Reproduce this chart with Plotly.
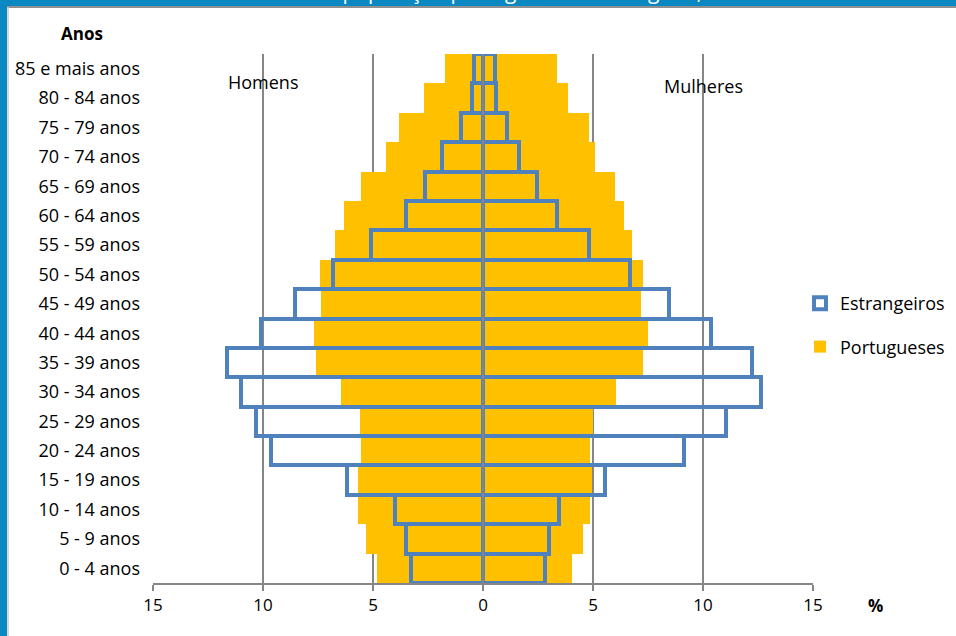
import plotly.graph_objects as go

age_groups = ["0 - 4 anos", "5 - 9 anos", "10 - 14 anos", "15 - 19 anos", "20 - 24 anos",
              "25 - 29 anos", "30 - 34 anos", "35 - 39 anos", "40 - 44 anos", "45 - 49 anos",
              "50 - 54 anos", "55 - 59 anos", "60 - 64 anos", "65 - 69 anos", "70 - 74 anos",
              "75 - 79 anos", "80 - 84 anos", "85 e mais anos"]

# percentages (men shown to the left)
port_homens = [4.8, 5.3, 5.7, 5.7, 5.55, 5.6, 6.45, 7.6, 7.7, 7.35, 7.4, 6.75, 6.3, 5.55, 4.4, 3.8, 2.7, 1.75]
port_mulheres = [4.06, 4.53, 4.86, 4.94, 4.86, 4.98, 6.05, 7.29, 7.49, 7.17, 7.26, 6.76, 6.41, 5.98, 5.1, 4.8, 3.88, 3.38]
estr_homens = [3.27, 3.5, 4.0, 6.2, 9.64, 10.33, 10.98, 11.65, 10.1, 8.55, 6.8, 5.1, 3.5, 2.64, 1.86, 1.02, 0.5, 0.42]
estr_mulheres = [2.82, 2.98, 3.44, 5.53, 9.15, 11.05, 12.62, 12.23, 10.36, 8.45, 6.7, 4.83, 3.38, 2.44, 1.65, 1.08, 0.6, 0.55]

x_ticks = [-15, -10, -5, 0, 5, 10, 15]
x_tick_labels = ["15", "10", "5", "0", "5", "10", "15"]

ORANGE = "#FFC000"
BLUE = "#4F81BD"
GRID = "#868686"
FONT = "Open Sans"

fig = go.Figure()

# Portugueses (filled, behind)
fig.add_trace(go.Bar(y=age_groups, x=[-v for v in port_homens], orientation="h",
                     marker=dict(color=ORANGE, line=dict(width=0)), name="Portugueses",
                     legendgroup="p", legendrank=2, showlegend=True, hoverinfo="skip"))
fig.add_trace(go.Bar(y=age_groups, x=port_mulheres, orientation="h",
                     marker=dict(color=ORANGE, line=dict(width=0)), name="Portugueses",
                     legendgroup="p", legendrank=2, showlegend=False, hoverinfo="skip"))
# Estrangeiros (outline only, in front)
fig.add_trace(go.Bar(y=age_groups, x=[-v for v in estr_homens], orientation="h",
                     marker=dict(color="rgba(255,255,255,0)", line=dict(color=BLUE, width=4)),
                     name="Estrangeiros", legendgroup="e", legendrank=1, showlegend=True,
                     hoverinfo="skip"))
fig.add_trace(go.Bar(y=age_groups, x=estr_mulheres, orientation="h",
                     marker=dict(color="rgba(255,255,255,0)", line=dict(color=BLUE, width=4)),
                     name="Estrangeiros", legendgroup="e", legendrank=1, showlegend=False,
                     hoverinfo="skip"))

L, R, T, B = 153, 143, 54, 53
W, H = 956, 636
pw, ph = W - L - R, H - T - B

def px_x(px):
    return (px - L) / pw

def px_y(py):
    return (H - B - py) / ph

fig.update_layout(
    width=W, height=H,
    margin=dict(l=L, r=R, t=T, b=B, pad=0, autoexpand=False),
    barmode="overlay", bargap=0,
    paper_bgcolor="white", plot_bgcolor="white",
    font=dict(family=FONT, size=18, color="black"),
    showlegend=True,
    legend=dict(x=px_x(800), y=px_y(285), xanchor="left", yanchor="top",
                traceorder="grouped", tracegroupgap=17,
                font=dict(family=FONT, size=18, color="black"),
                itemwidth=30, bgcolor="rgba(0,0,0,0)"),
    xaxis=dict(range=[-15, 15], tickvals=x_ticks, ticktext=x_tick_labels,
               showgrid=True, gridcolor=GRID, gridwidth=2, zeroline=False,
               showline=True, linecolor=GRID, linewidth=2,
               ticks="outside", ticklen=6, tickcolor=GRID, tickwidth=2,
               tickfont=dict(family=FONT, size=17, color="black"), fixedrange=True,
               automargin=False),
    yaxis=dict(categoryorder="array", categoryarray=age_groups, showgrid=False,
               zeroline=False, showline=False, ticks="", ticklabelstandoff=12,
               tickfont=dict(family=FONT, size=18, color="black"), fixedrange=True,
               automargin=False),
)

# zero axis line drawn above bars
fig.add_shape(type="line", xref="x", yref="paper", x0=0, x1=0, y0=0, y1=1,
              line=dict(color=GRID, width=2), layer="above")

# annotations
def note(x, y, text, size, xref="paper"):
    fig.add_annotation(x=x, y=y, xref=xref, yref="paper", text=text, showarrow=False,
                       xanchor="center", yanchor="middle",
                       font=dict(family=FONT, size=size, color="black"))

note(-10, px_y(82), "Homens", 18, xref="x")
note(10, px_y(86), "Mulheres", 18, xref="x")
note(px_x(82), px_y(33), "<b>Anos</b>", 17)
note(px_x(875), px_y(605), "<b>%</b>", 17)

# slide frame: top band and left border
fig.add_shape(type="rect", xref="paper", yref="paper", x0=px_x(-5), x1=px_x(W + 5),
              y0=px_y(6), y1=px_y(-5), fillcolor="#0A88C2", line=dict(width=0), layer="above")
fig.add_shape(type="line", xref="paper", yref="paper", x0=px_x(0), x1=px_x(W),
              y0=px_y(7), y1=px_y(7), line=dict(color="#909090", width=2), layer="above")
fig.add_shape(type="rect", xref="paper", yref="paper", x0=px_x(-5), x1=px_x(7),
              y0=px_y(H + 5), y1=px_y(-5), fillcolor="#0A88C2", line=dict(width=0), layer="above")
fig.add_shape(type="line", xref="paper", yref="paper", x0=px_x(8), x1=px_x(8),
              y0=px_y(H), y1=px_y(7), line=dict(color="#C8C8C8", width=1.5), layer="above")
fig.add_annotation(x=px_x(455), y=px_y(7), xref="paper", yref="paper",
                   text="Estrutura etária da população portuguesa e estrangeira, 2011",
                   showarrow=False, xanchor="center", yanchor="bottom",
                   font=dict(family=FONT, size=21, color="white"))

fig.write_html("out.html", config={"displayModeBar": False},
               post_script="document.body.style.margin='0';document.body.style.overflow='hidden';")
